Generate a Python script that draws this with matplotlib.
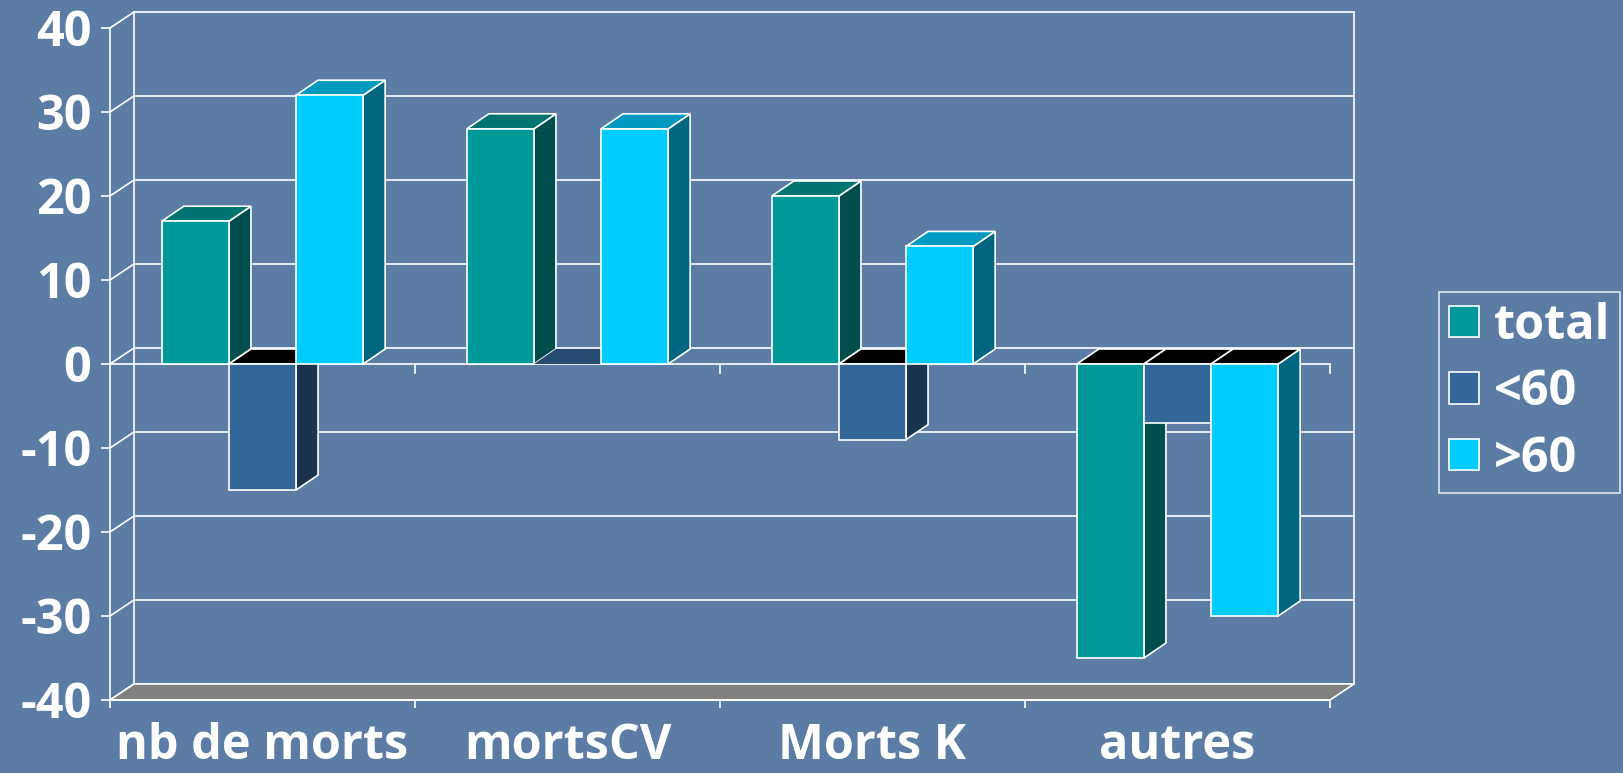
import matplotlib
matplotlib.use("Agg")
import matplotlib.pyplot as plt
from matplotlib.patches import Polygon, Patch
import numpy as np

# ---- data ----
categories = ["nb de morts", "mortsCV", "Morts K", "autres"]
series_names = ["total", "<60", ">60"]
total_vals = [17, 28, 20, -35]
under60_vals = [-15, 0, -9, -7]
over60_vals = [32, 28, 14, -30]
y_ticks = [-40, -30, -20, -10, 0, 10, 20, 30, 40]

# ---- style ----
BG = "#5b7da5"
front_cols = ["#009999", "#336699", "#00ccff"]
top_cols = ["#007373", "#264c73", "#0099bf"]
side_cols = ["#004d4d", "#1a334d", "#006680"]
NEG_TOP = "#000000"
EDGE = "white"
LW = 1.2
FONT = "Open Sans"
FS = 35

W, H = 1623, 773
fig = plt.figure(figsize=(W / 100, H / 100), dpi=100, facecolor=BG)
left_px, right_px, top_px, bot_px = 110, 1330, 28, 700
ax = fig.add_axes([left_px / W, (H - bot_px) / H, (right_px - left_px) / W, (bot_px - top_px) / H])
ax.set_facecolor("none")
x0, x1 = -0.5, len(categories) - 0.5
ax.set_xlim(x0, x1)
ax.set_ylim(-40, 40)

ux = (x1 - x0) / (right_px - left_px)
uy = 80 / (bot_px - top_px)
wdx, wdy = 24 * ux, 16 * uy     # wall depth
bdx, bdy = 22 * ux, 15 * uy     # bar depth
bw = 0.22

# back wall grid + side wall diagonals
for v in y_ticks:
    ax.plot([x0 + wdx, x1 + wdx], [v + wdy, v + wdy], color=EDGE, lw=LW, zorder=1, clip_on=False)
    ax.plot([x0, x0 + wdx], [v, v + wdy], color=EDGE, lw=LW, zorder=1, clip_on=False)
ax.plot([x0 + wdx, x0 + wdx], [-40 + wdy, 40 + wdy], color=EDGE, lw=LW, zorder=1, clip_on=False)
ax.plot([x1 + wdx, x1 + wdx], [-40 + wdy, 40 + wdy], color=EDGE, lw=LW, zorder=1, clip_on=False)

# floor slab
floor = Polygon([[x0, -40], [x1, -40], [x1 + wdx, -40 + wdy], [x0 + wdx, -40 + wdy]],
                closed=True, facecolor="#808080", edgecolor=EDGE, lw=LW, zorder=2, clip_on=False)
ax.add_patch(floor)

# zero plane front line and ticks
ax.plot([x0, x1], [0, 0], color=EDGE, lw=LW, zorder=2, clip_on=False)
for b in np.arange(0.5, len(categories), 1.0):
    ax.plot([b, b], [0, -9 * uy], color=EDGE, lw=LW, zorder=2, clip_on=False)

# bars
all_vals = [total_vals, under60_vals, over60_vals]
z = 3
for i in range(len(categories)):
    for j, vals in enumerate(all_vals):
        v = vals[i]
        xl = i + (j - 1) * bw - bw / 2
        xr = xl + bw
        yt = max(v, 0)
        side = Polygon([[xr, 0], [xr + bdx, bdy], [xr + bdx, v + bdy], [xr, v]], closed=True,
                       facecolor=side_cols[j], edgecolor=EDGE, lw=LW, zorder=z, clip_on=False)
        tc = NEG_TOP if v < 0 else top_cols[j]
        top = Polygon([[xl, yt], [xr, yt], [xr + bdx, yt + bdy], [xl + bdx, yt + bdy]], closed=True,
                      facecolor=tc, edgecolor=EDGE, lw=LW if v != 0 else 0, zorder=z, clip_on=False)
        ax.add_patch(side)
        ax.add_patch(top)
        if v != 0:
            ax.bar(xl, v, width=bw, align="edge", color=front_cols[j], edgecolor=EDGE,
                   linewidth=LW, zorder=z + 0.5, clip_on=False)
        z += 1

# axes styling
for s in ["top", "right"]:
    ax.spines[s].set_visible(False)
for s in ["left", "bottom"]:
    ax.spines[s].set_color(EDGE)
    ax.spines[s].set_linewidth(LW)
    ax.spines[s].set_zorder(2)

ax.set_yticks(y_ticks)
ax.set_yticklabels([str(t) for t in y_ticks])
ax.tick_params(axis="y", colors=EDGE, length=6.5, width=LW, pad=7, labelsize=FS)
ax.set_xticks(range(len(categories)))
ax.set_xticklabels(categories)
ax.set_xticks(np.arange(x0, x1 + 0.01, 1.0), minor=True)
ax.tick_params(axis="x", which="major", length=0, pad=16, colors=EDGE, labelsize=FS)
ax.tick_params(axis="x", which="minor", length=6, width=LW, colors=EDGE, direction="out")
for lab in ax.get_xticklabels() + ax.get_yticklabels():
    lab.set_fontfamily(FONT)
    lab.set_fontweight("bold")
    lab.set_color(EDGE)

handles = [Patch(facecolor=front_cols[j], edgecolor=EDGE, linewidth=LW, label=series_names[j])
           for j in range(3)]
leg = fig.legend(handles=handles, loc="upper right", bbox_to_anchor=(1620 / W, 1 - 292 / H),
                 frameon=True, fancybox=False, facecolor="none", edgecolor=EDGE,
                 prop={"family": FONT, "weight": "bold", "size": FS},
                 handlelength=0.62, handleheight=0.62, handletextpad=0.3,
                 labelspacing=0.36, borderpad=0.2, borderaxespad=0)
leg.get_frame().set_linewidth(LW)
for t in leg.get_texts():
    t.set_color(EDGE)

fig.savefig("out.png", dpi=100, facecolor=BG)
